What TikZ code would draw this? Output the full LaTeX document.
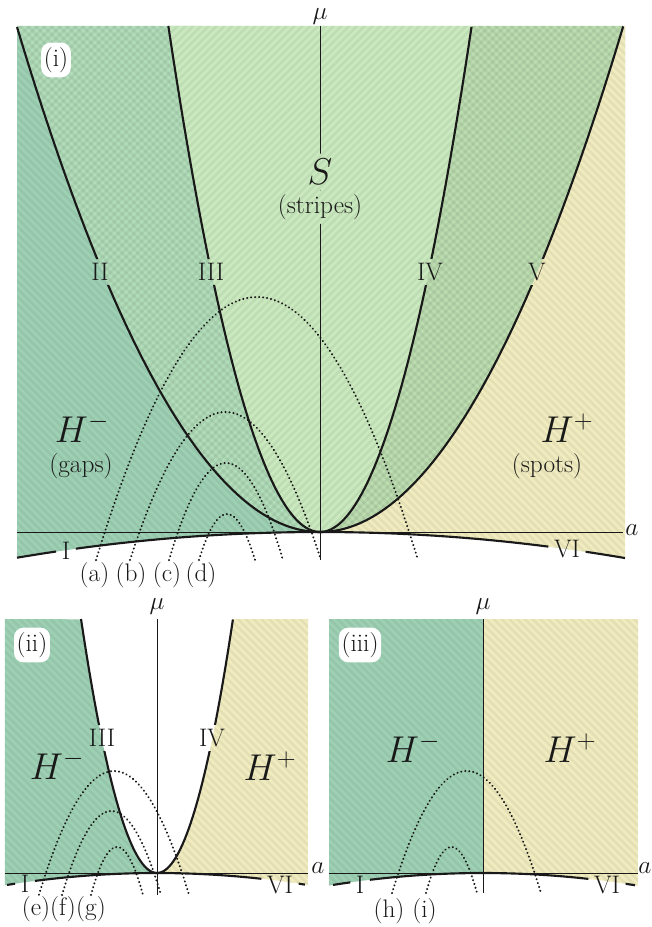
\RequirePackage{fix-cm}
\documentclass[tikz,border=0pt]{standalone}
\usepackage{fontspec}
\definecolor{cHm}{RGB}{158,208,180}
\definecolor{cHmS}{RGB}{179,222,187}
\definecolor{cS}{RGB}{202,233,190}
\definecolor{cSHp}{RGB}{189,222,177}
\definecolor{cHp}{RGB}{241,236,191}
\definecolor{ink}{RGB}{25,25,25}
\begin{document}
\begin{tikzpicture}[x=0.75pt,y=-0.75pt,
  lbl/.style={font=\fontsize{19}{22}\selectfont, text=ink, inner xsep=4pt, inner ysep=3pt},
  low/.style={font=\fontsize{19}{22}\selectfont, text=ink, inner xsep=4pt, inner ysep=0.5pt},
  axlbl/.style={font=\fontsize{19}{22}\selectfont, text=ink, inner sep=0pt},
  tag/.style={font=\fontsize{19}{22}\selectfont, text=ink, inner sep=0.5pt},
  big/.style={font=\fontsize{28}{32}\selectfont, text=ink, inner xsep=1pt, inner ysep=4pt},
  panellabel/.style={font=\fontsize{19}{22}\selectfont, text=ink, fill=white, rounded corners=7pt, inner xsep=2pt, inner ysep=3.5pt},
  bound/.style={line width=1.6pt, draw=ink},
  axisline/.style={line width=0.6pt, draw=ink},
  traj/.style={line width=1.6pt, draw=ink, line cap=round, dash pattern=on 0.1pt off 2.9pt},
  hatch/.style={line width=2pt, draw=black, opacity=0.05}
]
\useasboundingbox[fill=white] (0,0) rectangle (652,927);

% ---------------- Panel (i): fills and hatching ----------------
\begin{scope}[shift={(240pt,-399pt)},x=75pt,y=75pt]
  \fill[cHmS] plot[domain=-3.03:0,samples=30] (\x,{-0.028*\x*\x}) -- (0,5.06) -- (-3.03,5.06) -- cycle;
  \fill[cSHp] plot[domain=0:3.05,samples=30] (\x,{-0.028*\x*\x}) -- (3.05,5.06) -- (0,5.06) -- cycle;
  \fill[cS] plot[domain=-1.5166:1.5166,samples=80] (\x,{2.2*\x*\x}) -- cycle;
  \fill[cHm] plot[domain=-3.03:0,samples=60] (\x,{0.55*\x*\x}) -- plot[domain=0:-3.03,samples=30] (\x,{-0.028*\x*\x}) -- cycle;
  \fill[cHp] plot[domain=0:3.033,samples=60] (\x,{0.55*\x*\x}) -- (3.05,5.06) -- plot[domain=3.05:0,samples=30] (\x,{-0.028*\x*\x}) -- cycle;
  \begin{scope}
    \clip plot[domain=-3.03:3.05,samples=40] (\x,{-0.028*\x*\x}) -- (3.05,5.06) -- (1.5166,5.06)
      -- plot[domain=1.5166:-1.5166,samples=80] (\x,{2.2*\x*\x}) -- (-3.03,5.06) -- cycle;
    \draw[hatch] foreach \c in {-3.4,-3.322,...,8.2} {(\c+0.3,-0.3) -- ++(-5.4,5.4)};
  \end{scope}
  \begin{scope}
    \clip plot[domain=-3.03:3.033,samples=80] (\x,{0.55*\x*\x}) -- (-3.03,5.06) -- cycle;
    \draw[hatch] foreach \c in {-8.2,-8.122,...,3.4} {(\c-0.3,-0.3) -- ++(5.4,5.4)};
  \end{scope}
\end{scope}

% ---------------- Panel (ii): fills and hatching ----------------
\begin{scope}[shift={(117.75pt,-654.75pt)},x=75pt,y=75pt]
  \fill[cHm] plot[domain=-1.52:0,samples=30] (\x,{-0.053*\x*\x}) -- plot[domain=0:-0.7598,samples=40] (\x,{4.4*\x*\x}) -- (-1.52,2.54) -- cycle;
  \fill[cHp] plot[domain=0:1.51,samples=30] (\x,{-0.053*\x*\x}) -- (1.51,2.54) -- (0.7598,2.54) -- plot[domain=0.7598:0,samples=40] (\x,{4.4*\x*\x}) -- cycle;
  \begin{scope}
    \clip plot[domain=-1.52:1.51,samples=40] (\x,{-0.053*\x*\x}) -- (1.51,2.54) -- (0.7598,2.54)
      -- plot[domain=0.7598:-0.7598,samples=60] (\x,{4.4*\x*\x}) -- (-1.52,2.54) -- cycle;
    \draw[hatch] foreach \c in {-1.8,-1.722,...,4.2} {(\c+0.2,-0.2) -- ++(-2.9,2.9)};
  \end{scope}
\end{scope}

% ---------------- Panel (iii): fills and hatching ----------------
\begin{scope}[shift={(362.25pt,-654.75pt)},x=75pt,y=75pt]
  \fill[cHm] plot[domain=-1.54:0,samples=30] (\x,{-0.053*\x*\x}) -- (0,2.54) -- (-1.54,2.54) -- cycle;
  \fill[cHp] plot[domain=0:1.55,samples=30] (\x,{-0.053*\x*\x}) -- (1.55,2.54) -- (0,2.54) -- cycle;
  \begin{scope}
    \clip plot[domain=-1.54:1.55,samples=40] (\x,{-0.053*\x*\x}) -- (1.55,2.54) -- (-1.54,2.54) -- cycle;
    \draw[hatch] foreach \c in {-1.8,-1.722,...,4.2} {(\c+0.2,-0.2) -- ++(-2.9,2.9)};
  \end{scope}
\end{scope}

% ---------------- Labels ----------------
% panel (i)
\node[panellabel] (pi) at (56,60) {(i)};
\node[axlbl] (mua) at (320,17) {$\mu$};
\node[axlbl] (aa) at (632,530) {$a$};
\node[lbl] (lII) at (100,272) {II};
\node[lbl] (lIII) at (211,272) {III};
\node[lbl] (lIV) at (430,272) {IV};
\node[lbl] (lV) at (537,272) {V};
\node[low] (lIa) at (66,551) {I};
\node[low] (lVIa) at (567,549) {VI};
\node[big] (lS) at (320,172) {$S$};
\node[lbl] (lSt) at (320,207) {(stripes)};
\node[big] (Hma) at (82,428) {$H^-$};
\node[tag] (gaps) at (81,466) {(gaps)};
\node[big] (Hpa) at (567,428) {$H^+$};
\node[tag] (spots) at (547,466) {(spots)};
\node[tag] (ta) at (94.5,575) {(a)};
\node[tag] (tb) at (131,575) {(b)};
\node[tag] (tc) at (167,575) {(c)};
\node[tag] (td) at (201,575) {(d)};
% panel (ii)
\node[panellabel] (pii) at (32,645) {(ii)};
\node[axlbl] (mub) at (157,607) {$\mu$};
\node[axlbl] (ab) at (318,868) {$a$};
\node[lbl] (lIIIb) at (102,738) {III};
\node[lbl] (lIVb) at (212,738) {IV};
\node[big] (Hmb) at (57,765) {$H^-$};
\node[big] (Hpb) at (270,766) {$H^+$};
\node[low] (lIb) at (25,884) {I};
\node[low] (lVIb) at (280,885) {VI};
\node[tag] (te) at (36,909) {(e)};
\node[tag] (tf) at (63,909) {(f)};
\node[tag] (tg) at (91,909) {(g)};
% panel (iii)
\node[panellabel] (piii) at (360,645) {(iii)};
\node[axlbl] (muc) at (483,607) {$\mu$};
\node[axlbl] (ac) at (645,868) {$a$};
\node[big] (Hmc) at (413,748) {$H^-$};
\node[big] (Hpc) at (570,748) {$H^+$};
\node[low] (lIc) at (360,885) {I};
\node[low] (lVIc) at (607,885) {VI};
\node[tag] (th) at (389,911) {(h)};
\node[tag] (ti) at (424.5,911) {(i)};

% ---------------- Boundaries and axes (with gaps at labels) ----------------
\begin{scope}
  \clip (0,0) -- (652,0) -- (652,927) -- (0,927) -- cycle
    foreach \n in {lII,lIII,lIV,lV,lIa,lVIa,lS,lSt,lIIIb,lIVb,lIb,lVIb,lIc,lVIc}
      {(\n.north west) -- (\n.south west) -- (\n.south east) -- (\n.north east) -- cycle};
  \begin{scope}[shift={(240pt,-399pt)},x=75pt,y=75pt]
    \draw[axisline] (-3.03,0) -- (3.03,0);
    \draw[axisline] (0,5.06) -- (0,-0.28);
    \draw[bound] plot[domain=-3.03:3.033,samples=100] (\x,{0.55*\x*\x});
    \draw[bound] plot[domain=-1.5166:1.5166,samples=100] (\x,{2.2*\x*\x});
    \draw[bound] plot[domain=-3.03:3.05,samples=60] (\x,{-0.028*\x*\x});
  \end{scope}
  \begin{scope}[shift={(117.75pt,-654.75pt)},x=75pt,y=75pt]
    \draw[axisline] (-1.52,0) -- (1.51,0);
    \draw[axisline] (0,2.54) -- (0,-0.22);
    \draw[bound] plot[domain=-0.7598:0.7598,samples=80] (\x,{4.4*\x*\x});
    \draw[bound] plot[domain=-1.50:1.48,samples=50] (\x,{-0.053*\x*\x});
  \end{scope}
  \begin{scope}[shift={(362.25pt,-654.75pt)},x=75pt,y=75pt]
    \draw[axisline] (-1.54,0) -- (1.55,0);
    \draw[axisline] (0,2.54) -- (0,-0.20);
    \draw[bound] plot[domain=-1.50:1.52,samples=50] (\x,{-0.053*\x*\x});
  \end{scope}
\end{scope}

% ---------------- Dotted paths ----------------
\begin{scope}[shift={(240pt,-399pt)},x=75pt,y=75pt]
  \draw[traj] plot[domain=-2.24:0.98,samples=80] (\x,{2.35-1.015*(\x+0.63)*(\x+0.63)});
  \draw[traj] plot[domain=-1.90:0.01,samples=60] (\x,{1.20-1.623*(\x+0.945)*(\x+0.945)});
  \draw[traj] plot[domain=-1.51:-0.37,samples=50] (\x,{0.69-2.99*(\x+0.94)*(\x+0.94)});
  \draw[traj] plot[domain=-1.21:-0.65,samples=40] (\x,{0.18-5.87*(\x+0.93)*(\x+0.93)});
\end{scope}
\begin{scope}[shift={(117.75pt,-654.75pt)},x=75pt,y=75pt]
  \draw[traj] plot[domain=-1.18:0.32,samples=60] (\x,{1.02-2.2*(\x+0.43)*(\x+0.43)});
  \draw[traj] plot[domain=-0.95:0.04,samples=50] (\x,{0.62-3.43*(\x+0.455)*(\x+0.455)});
  \draw[traj] plot[domain=-0.66:-0.14,samples=40] (\x,{0.26-7.1*(\x+0.40)*(\x+0.40)});
\end{scope}
\begin{scope}[shift={(362.25pt,-654.75pt)},x=75pt,y=75pt]
  \draw[traj] plot[domain=-0.91:0.58,samples=60] (\x,{1.02-2.2*(\x+0.165)*(\x+0.165)});
  \draw[traj] plot[domain=-0.57:-0.06,samples=40] (\x,{0.26-7.07*(\x+0.315)*(\x+0.315)});
\end{scope}
\end{tikzpicture}
\end{document}
